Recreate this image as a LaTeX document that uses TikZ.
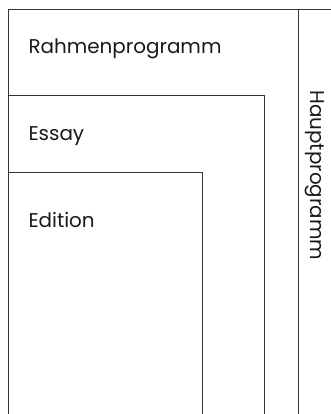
\documentclass[tikz,border=0pt]{standalone}
\usepackage{fontspec}
\setmainfont{Poppins}
\begin{document}
\begin{tikzpicture}[x=1bp, y=-1bp, line width=1bp]
\tikzset{lbl/.style={anchor=base west, inner sep=0pt, text=black!90, font=\fontsize{20}{24}\selectfont}}
\useasboundingbox (0,0) rectangle (331,414);
\draw[black!80] (8,414) -- (8,9) -- (331,9);
\draw[black!80] (298,9) -- (298,414);
\draw[black!80] (8,95) -- (264,95) -- (264,414);
\draw[black!80] (8,172) -- (202,172) -- (202,414);
\node[lbl] (rahmen) at (28,53) {Rahmenprogramm};
\node[lbl] (essay) at (28,140) {Essay};
\node[lbl] (edition) at (28,227) {Edition};
\node[lbl, rotate=-90] (haupt) at (310,90) {Hauptprogramm};
\end{tikzpicture}
\end{document}
